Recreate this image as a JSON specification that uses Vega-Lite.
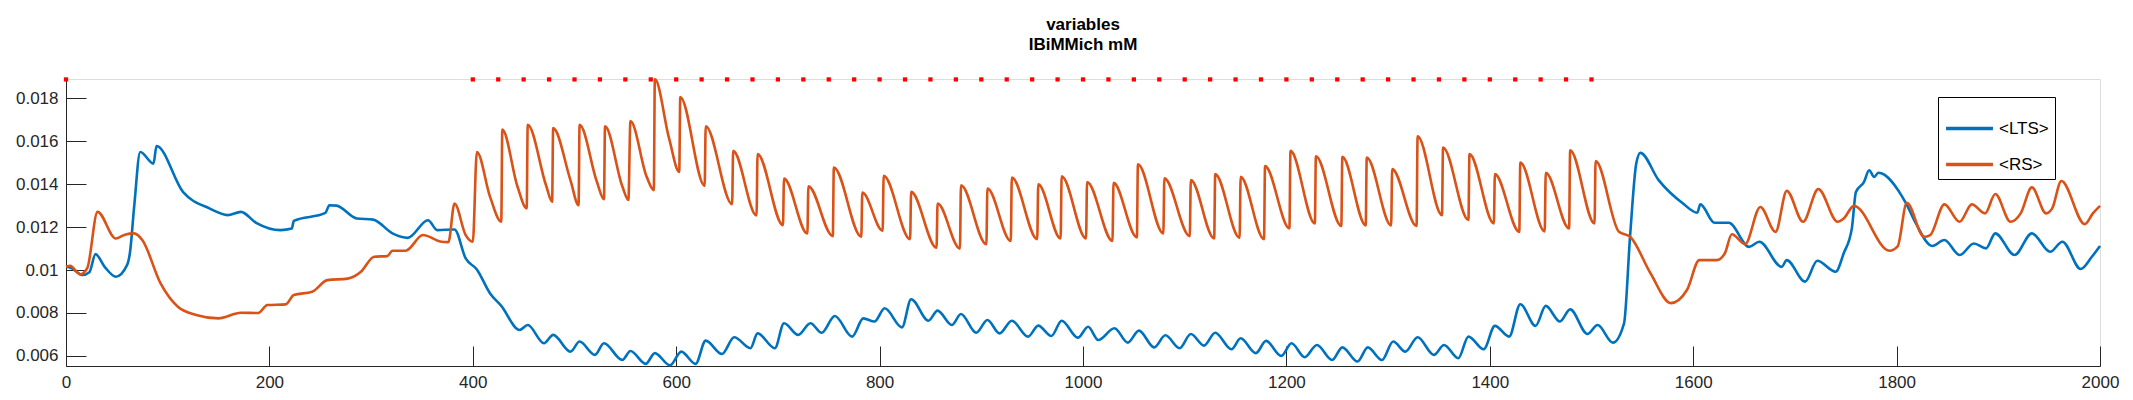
{
  "$schema": "https://vega.github.io/schema/vega-lite/v6.json",
  "width": 2034,
  "height": 287,
  "autosize": "none",
  "padding": {"left": 66, "top": 79, "right": 33, "bottom": 34},
  "background": "white",
  "title": {
    "text": "variables",
    "subtitle": "IBiMMich mM",
    "fontSize": 17,
    "subtitleFontSize": 17,
    "fontWeight": "bold",
    "subtitleFontWeight": "bold",
    "color": "black",
    "subtitleColor": "black",
    "font": "Liberation Sans",
    "subtitleFont": "Liberation Sans",
    "anchor": "middle",
    "offset": 20,
    "subtitlePadding": 3
  },
  "datasets": {
    "lts": [
      {"x":0,"y":0.01015},{"x":5,"y":0.0101},{"x":16,"y":0.00977},{"x":23,"y":0.0099},{"x":29,"y":0.01074},{"x":38,"y":0.01015},{"x":49,"y":0.00969},{"x":60,"y":0.01023},{"x":63,"y":0.01085},{"x":67,"y":0.01294},{"x":73,"y":0.0155},{"x":86,"y":0.01496},{"x":89,"y":0.01578},{"x":115,"y":0.01364},{"x":141,"y":0.01287},{"x":159,"y":0.01256},{"x":172,"y":0.01271},{"x":187,"y":0.0122},{"x":211,"y":0.01186},{"x":222,"y":0.01193},{"x":224,"y":0.01229},{"x":255,"y":0.01266},{"x":259,"y":0.01302},{"x":266,"y":0.013},{"x":286,"y":0.0124},{"x":302,"y":0.01235},{"x":321,"y":0.01171},{"x":336,"y":0.0115},{"x":356,"y":0.01232},{"x":365,"y":0.01186},{"x":382,"y":0.01189},{"x":393,"y":0.01054},{"x":404,"y":0.01003},{"x":417,"y":0.00891},{"x":428,"y":0.00833},{"x":446,"y":0.00721},{"x":454,"y":0.00744},{"x":470,"y":0.00659},{"x":479,"y":0.00698},{"x":496,"y":0.0062},{"x":505,"y":0.00667},{"x":520,"y":0.00605},{"x":529,"y":0.00659},{"x":547,"y":0.00581},{"x":555,"y":0.00623},{"x":570,"y":0.00563},{"x":579,"y":0.00613},{"x":594,"y":0.00556},{"x":605,"y":0.0062},{"x":619,"y":0.00563},{"x":629,"y":0.00671},{"x":645,"y":0.00609},{"x":657,"y":0.00687},{"x":673,"y":0.00636},{"x":680,"y":0.00705},{"x":697,"y":0.00636},{"x":706,"y":0.00752},{"x":720,"y":0.00698},{"x":732,"y":0.00752},{"x":743,"y":0.00708},{"x":756,"y":0.00786},{"x":773,"y":0.0069},{"x":784,"y":0.00775},{"x":795,"y":0.0076},{"x":805,"y":0.00822},{"x":822,"y":0.00733},{"x":831,"y":0.00864},{"x":848,"y":0.00764},{"x":857,"y":0.00811},{"x":871,"y":0.00744},{"x":880,"y":0.00795},{"x":895,"y":0.00708},{"x":906,"y":0.00767},{"x":918,"y":0.00705},{"x":930,"y":0.00764},{"x":946,"y":0.0069},{"x":956,"y":0.00741},{"x":969,"y":0.00693},{"x":979,"y":0.00764},{"x":995,"y":0.00685},{"x":1005,"y":0.00736},{"x":1015,"y":0.00674},{"x":1031,"y":0.00729},{"x":1044,"y":0.00662},{"x":1055,"y":0.00718},{"x":1070,"y":0.0064},{"x":1081,"y":0.00696},{"x":1095,"y":0.00636},{"x":1106,"y":0.00702},{"x":1119,"y":0.00648},{"x":1130,"y":0.00708},{"x":1146,"y":0.00631},{"x":1155,"y":0.00682},{"x":1170,"y":0.00613},{"x":1180,"y":0.0067},{"x":1195,"y":0.006},{"x":1205,"y":0.00659},{"x":1218,"y":0.00594},{"x":1230,"y":0.00651},{"x":1245,"y":0.00581},{"x":1255,"y":0.0064},{"x":1270,"y":0.00574},{"x":1280,"y":0.0064},{"x":1294,"y":0.00581},{"x":1305,"y":0.00667},{"x":1317,"y":0.0062},{"x":1329,"y":0.00687},{"x":1345,"y":0.00605},{"x":1355,"y":0.00651},{"x":1369,"y":0.00589},{"x":1379,"y":0.0069},{"x":1394,"y":0.00631},{"x":1405,"y":0.0074},{"x":1419,"y":0.0069},{"x":1430,"y":0.00841},{"x":1445,"y":0.0074},{"x":1455,"y":0.00833},{"x":1469,"y":0.0076},{"x":1479,"y":0.00817},{"x":1496,"y":0.00702},{"x":1506,"y":0.00744},{"x":1521,"y":0.00662},{"x":1532,"y":0.00752},{"x":1538,"y":0.01163},{"x":1544,"y":0.01496},{"x":1548,"y":0.01546},{"x":1566,"y":0.01419},{"x":1590,"y":0.0131},{"x":1604,"y":0.01267},{"x":1607,"y":0.01306},{"x":1621,"y":0.0122},{"x":1635,"y":0.0122},{"x":1655,"y":0.01108},{"x":1665,"y":0.01132},{"x":1687,"y":0.01015},{"x":1692,"y":0.01046},{"x":1710,"y":0.00946},{"x":1722,"y":0.01043},{"x":1740,"y":0.00992},{"x":1748,"y":0.01078},{"x":1756,"y":0.01194},{"x":1760,"y":0.01364},{"x":1768,"y":0.01411},{"x":1773,"y":0.01465},{"x":1778,"y":0.01434},{"x":1782,"y":0.01453},{"x":1809,"y":0.01313},{"x":1819,"y":0.01217},{"x":1835,"y":0.01112},{"x":1847,"y":0.0114},{"x":1862,"y":0.0107},{"x":1876,"y":0.01124},{"x":1888,"y":0.01101},{"x":1897,"y":0.01171},{"x":1916,"y":0.0107},{"x":1933,"y":0.01171},{"x":1951,"y":0.01085},{"x":1963,"y":0.01132},{"x":1981,"y":0.01005},{"x":1992,"y":0.01062},{"x":2000,"y":0.01112}
    ],
    "rs": [
      {"x":0,"y":0.01015},{"x":4,"y":0.0102},{"x":14,"y":0.0098},{"x":21,"y":0.0101},{"x":31,"y":0.01271},{"x":49,"y":0.01147},{"x":58,"y":0.01165},{"x":67,"y":0.01171},{"x":75,"y":0.0114},{"x":93,"y":0.00938},{"x":110,"y":0.00829},{"x":128,"y":0.00791},{"x":150,"y":0.00775},{"x":172,"y":0.00801},{"x":189,"y":0.008},{"x":198,"y":0.00837},{"x":216,"y":0.0084},{"x":224,"y":0.00884},{"x":242,"y":0.00899},{"x":257,"y":0.00953},{"x":277,"y":0.0096},{"x":290,"y":0.00992},{"x":303,"y":0.01062},{"x":316,"y":0.01065},{"x":321,"y":0.0109},{"x":334,"y":0.0109},{"x":351,"y":0.01163},{"x":369,"y":0.01132},{"x":376,"y":0.0113},{"x":382,"y":0.0131},{"x":393,"y":0.01163},{"x":400,"y":0.01132},
      {"x":404,"y":0.0155},{"x":417,"y":0.01341},{"x":428,"y":0.01225},{"x":429,"y":0.01654},{"x":444,"y":0.01388},{"x":453,"y":0.01287},{"x":454,"y":0.01677},{"x":472,"y":0.01395},{"x":478,"y":0.01318},{"x":479,"y":0.01661},{"x":496,"y":0.01419},{"x":504,"y":0.01302},{"x":505,"y":0.01677},{"x":522,"y":0.01411},{"x":529,"y":0.0133},{"x":530,"y":0.0167},{"x":547,"y":0.0139},{"x":553,"y":0.01326},{"x":555,"y":0.01694},{"x":571,"y":0.01434},{"x":578,"y":0.01372},{"x":579,"y":0.0189},{"x":593,"y":0.01613},{"x":603,"y":0.01457},{"x":604,"y":0.01806},{"x":628,"y":0.01392},{"x":629,"y":0.0167},{"x":655,"y":0.01307},{"x":656,"y":0.01555},{"x":679,"y":0.01254},{"x":680,"y":0.0154},{"x":705,"y":0.01209},{"x":706,"y":0.01426},{"x":729,"y":0.0117},{"x":730,"y":0.0139},{"x":754,"y":0.01158},{"x":755,"y":0.01478},{"x":782,"y":0.01155},{"x":783,"y":0.01361},{"x":803,"y":0.01183},{"x":804,"y":0.01439},{"x":830,"y":0.01144},{"x":831,"y":0.01364},{"x":856,"y":0.01104},{"x":857,"y":0.0131},{"x":879,"y":0.011},{"x":880,"y":0.01395},{"x":905,"y":0.0112},{"x":906,"y":0.0138},{"x":929,"y":0.01135},{"x":930,"y":0.01431},{"x":955,"y":0.01144},{"x":956,"y":0.014},{"x":978,"y":0.01147},{"x":979,"y":0.01437},{"x":1003,"y":0.01147},{"x":1004,"y":0.0141},
      {"x":1029,"y":0.01136},{"x":1030,"y":0.01406},{"x":1053,"y":0.01152},{"x":1054,"y":0.01493},{"x":1079,"y":0.0117},{"x":1080,"y":0.01427},{"x":1105,"y":0.01158},{"x":1106,"y":0.01419},{"x":1129,"y":0.01147},{"x":1130,"y":0.01447},{"x":1154,"y":0.0115},{"x":1155,"y":0.01434},{"x":1178,"y":0.01144},{"x":1179,"y":0.01484},{"x":1203,"y":0.01194},{"x":1204,"y":0.01555},{"x":1228,"y":0.01217},{"x":1229,"y":0.0153},{"x":1254,"y":0.01205},{"x":1255,"y":0.01527},{"x":1278,"y":0.01208},{"x":1279,"y":0.01524},{"x":1303,"y":0.01208},{"x":1304,"y":0.0147},{"x":1328,"y":0.01205},{"x":1329,"y":0.01623},{"x":1353,"y":0.01256},{"x":1354,"y":0.01571},{"x":1379,"y":0.01233},{"x":1380,"y":0.0154},{"x":1404,"y":0.01217},{"x":1405,"y":0.01447},{"x":1429,"y":0.01178},{"x":1430,"y":0.01501},{"x":1454,"y":0.0118},{"x":1455,"y":0.01453},{"x":1478,"y":0.01194},{"x":1479,"y":0.01558},{"x":1503,"y":0.01217},{"x":1504,"y":0.01508},{"x":1527,"y":0.01178},{"x":1538,"y":0.01155},{"x":1558,"y":0.00985},{"x":1578,"y":0.00846},{"x":1594,"y":0.00908},{"x":1606,"y":0.01046},{"x":1623,"y":0.01046},{"x":1631,"y":0.01077},{"x":1638,"y":0.01167},{"x":1651,"y":0.01121},{"x":1666,"y":0.01294},{"x":1681,"y":0.01178},{"x":1692,"y":0.01369},{"x":1708,"y":0.01225},{"x":1723,"y":0.01377},{"x":1742,"y":0.01225},{"x":1748,"y":0.0124},{"x":1758,"y":0.01299},{"x":1793,"y":0.0109},{"x":1801,"y":0.0111},{"x":1810,"y":0.01313},{"x":1827,"y":0.01155},{"x":1833,"y":0.01163},{"x":1847,"y":0.01306},{"x":1862,"y":0.01225},{"x":1874,"y":0.01306},{"x":1887,"y":0.01264},{"x":1897,"y":0.01354},{"x":1912,"y":0.01225},{"x":1922,"y":0.01264},{"x":1933,"y":0.01385},{"x":1947,"y":0.01264},{"x":1953,"y":0.01287},{"x":1962,"y":0.01415},{"x":1985,"y":0.01214},{"x":1993,"y":0.01264},{"x":2000,"y":0.01299}
    ],
    "stim": [
      {"x":0,"y":0.01888},{"x":400,"y":0.01888},{"x":425,"y":0.01888},{"x":450,"y":0.01888},{"x":475,"y":0.01888},{"x":500,"y":0.01888},{"x":525,"y":0.01888},{"x":550,"y":0.01888},{"x":575,"y":0.01888},{"x":600,"y":0.01888},{"x":625,"y":0.01888},{"x":650,"y":0.01888},{"x":675,"y":0.01888},{"x":700,"y":0.01888},{"x":725,"y":0.01888},{"x":750,"y":0.01888},{"x":775,"y":0.01888},{"x":800,"y":0.01888},{"x":825,"y":0.01888},{"x":850,"y":0.01888},{"x":875,"y":0.01888},{"x":900,"y":0.01888},{"x":925,"y":0.01888},{"x":950,"y":0.01888},{"x":975,"y":0.01888},{"x":1000,"y":0.01888},{"x":1025,"y":0.01888},{"x":1050,"y":0.01888},{"x":1075,"y":0.01888},{"x":1100,"y":0.01888},{"x":1125,"y":0.01888},{"x":1150,"y":0.01888},{"x":1175,"y":0.01888},{"x":1200,"y":0.01888},{"x":1225,"y":0.01888},{"x":1250,"y":0.01888},{"x":1275,"y":0.01888},{"x":1300,"y":0.01888},{"x":1325,"y":0.01888},{"x":1350,"y":0.01888},{"x":1375,"y":0.01888},{"x":1400,"y":0.01888},{"x":1425,"y":0.01888},{"x":1450,"y":0.01888},{"x":1475,"y":0.01888},{"x":1500,"y":0.01888}
    ]
  },
  "encoding": {
    "x": {
      "field": "x", "type": "quantitative",
      "scale": {"domain": [0, 2000], "nice": false, "zero": false},
      "axis": {"title": null, "values": [0,200,400,600,800,1000,1200,1400,1600,1800,2000], "format": "d", "grid": false, "tickSize": -20, "labelPadding": 28, "labelFontSize": 17, "labelFont": "Liberation Sans", "labelColor": "#262626", "domainColor": "#262626", "tickColor": "#262626", "labelFlush": false}
    },
    "y": {
      "field": "y", "type": "quantitative",
      "scale": {"domain": [0.00553, 0.0189], "nice": false, "zero": false},
      "axis": {"title": null, "values": [0.006,0.008,0.01,0.012,0.014,0.016,0.018], "format": "~g", "grid": false, "tickSize": -20, "labelPadding": 28, "labelFontSize": 17, "labelFont": "Liberation Sans", "labelColor": "#262626", "domainColor": "#262626", "tickColor": "#262626"}
    }
  },
  "layer": [
    {
      "data": {"name": "lts"},
      "mark": {"type": "line", "strokeWidth": 2.6, "interpolate": "monotone"},
      "encoding": {"color": {"datum": "<LTS>"}}
    },
    {
      "data": {"name": "rs"},
      "mark": {"type": "line", "strokeWidth": 2.6, "interpolate": "monotone"},
      "encoding": {
        "color": {
          "datum": "<RS>",
          "scale": {"domain": ["<LTS>", "<RS>"], "range": ["#0072BD", "#D95319"]},
          "legend": {"title": null, "orient": "none", "legendX": 1872, "legendY": 18, "symbolType": "stroke", "symbolStrokeWidth": 3.5, "symbolSize": 2200, "labelFontSize": 17, "labelFont": "Liberation Sans", "labelColor": "black", "strokeColor": "black", "padding": 6, "rowPadding": 2, "fillColor": "white"}
        }
      }
    },
    {
      "data": {"name": "stim"},
      "mark": {"type": "square", "color": "#FF0000", "opacity": 1, "size": 18}
    }
  ]
}
